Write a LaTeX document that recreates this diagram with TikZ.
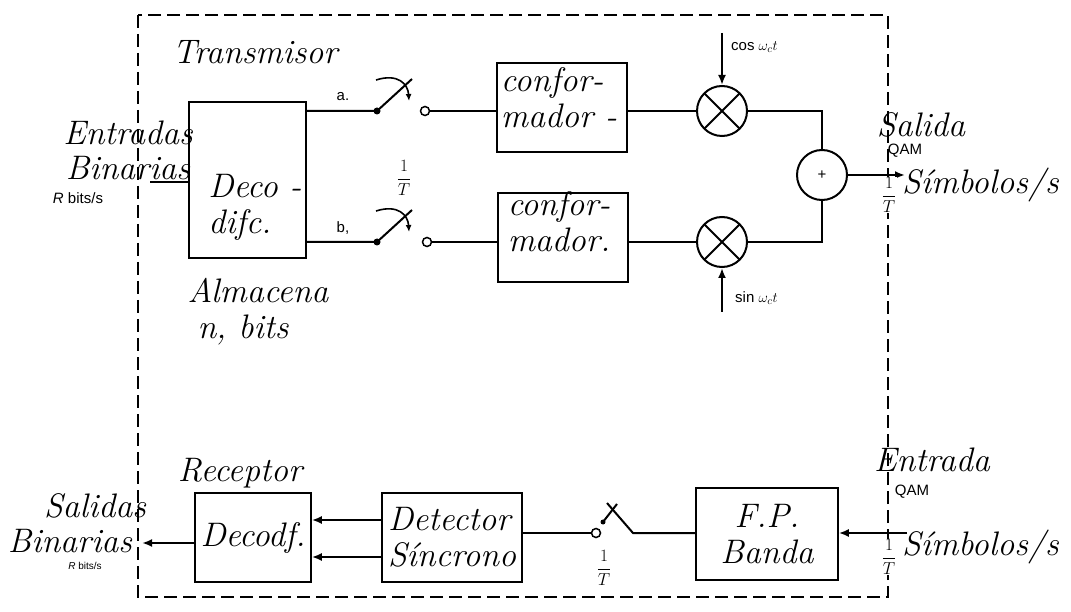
\documentclass[tikz,border=0pt]{standalone}
\usepackage{fontspec}
\newfontfamily\labfont{Liberation Sans}
\usetikzlibrary{arrows.meta}
\tikzset{
 blk/.style={draw, line width=1.6pt, inner sep=0pt},
 hwf/.style={font=\fontsize{34}{36}\selectfont\itshape},
 hw/.style={hwf, inner sep=0pt},
 lab/.style={font=\fontsize{15}{17}\selectfont\labfont, inner sep=0pt},
 frac/.style={font=\fontsize{17}{19}\selectfont, inner sep=0pt},
 wire/.style={line width=2pt},
 arr/.style={wire, -{Latex[length=10pt,width=8pt]}},
 mix/.style={circle, draw, line width=2pt, minimum size=50pt, inner sep=0pt,
   path picture={\draw[line width=2pt] (path picture bounding box.south west)--(path picture bounding box.north east)
     (path picture bounding box.north west)--(path picture bounding box.south east);}},
 contact/.style={circle, draw, line width=1.5pt, minimum size=9pt, inner sep=0pt, fill=white},
 dotn/.style={circle, fill, minimum size=7pt, inner sep=0pt},
 turn/.style={line width=1.6pt, -{Latex[length=7pt,width=6pt]}},
}
\begin{document}
\begin{tikzpicture}[x=1pt,y=-1pt]
\useasboundingbox (0,0) rectangle (1071,612);
\draw[line width=1.6pt, dash pattern=on 13pt off 6pt] (138,15) rectangle (888,597);

% ---------------- Transmitter
\node[hw] (tx) at (255,52) {Transmisor};
\node[blk, minimum width=117pt, minimum height=156pt] (deco) at (247.5,180) {};
\node[hw, align=left] (decotxt) at (255,207) {Deco -\\difc.};
\node[hw] (ent) at (128,133) {Entradas};
\node[hw] (bin) at (128,168) {Binarias};
\node[lab] (rb) at (78,198) {\textit{R} bits/s};
\coordinate (inp) at (150,182);
\draw[wire] (inp) -- (inp -| deco.west);
\node[hw] (alm) at (258,291) {Almacena};
\node[hw] (nb) at (243,330) {n, bits};

% switch a
\node[dotn] (pa) at (377,111) {};
\node[contact] (ca) at (425,111) {};
\coordinate (ba) at (412,79);
\coordinate (qa1) at (376,80);
\coordinate (qa2) at (409,101);
\draw[wire] (deco.east |- pa) -- (pa.center) -- (ba);
\draw[turn] (qa1) .. controls (398,73) and (408,84) .. (qa2);
\node[lab] (la) at (343,97) {a.};

% switch b
\node[dotn] (pb) at (377,242) {};
\node[contact] (cb) at (427,242) {};
\coordinate (bb) at (412,210);
\coordinate (qb1) at (376,211);
\coordinate (qb2) at (409,232);
\draw[wire] (deco.east |- pb) -- (pb.center) -- (bb);
\draw[turn] (qb1) .. controls (398,204) and (408,215) .. (qb2);
\node[lab] (lb) at (343,228) {b,};
\node[frac] (T1) at (404,178) {$\displaystyle\frac{1}{T}$};

% conformadores
\node[blk, minimum width=130pt, minimum height=89pt] (conf1) at (562,107.5) {};
\node[hw, align=left] (conf1t) at (559,98) {confor-\\mador -};
\node[blk, minimum width=130pt, minimum height=89pt] (conf2) at (563,237.5) {};
\node[hw, align=left] (conf2t) at (559,222) {confor-\\mador.};
\draw[wire] (ca) -- (ca -| conf1.west);
\draw[wire] (cb) -- (cb -| conf2.west);

% mixers
\node[mix] (m1) at (722,111) {};
\node[mix] (m2) at (722,242) {};
\draw[wire] (conf1.east |- m1) -- (m1);
\draw[wire] (conf2.east |- m2) -- (m2);
\coordinate (cosin) at (722,33);
\coordinate (sinin) at (722,312);
\draw[arr] (cosin) -- (m1.north);
\draw[arr] (sinin) -- (m2.south);
\node[lab, anchor=west] (cos) at (731,47) {cos $\omega_c t$};
\node[lab, anchor=west] (sin) at (735,298) {sin $\omega_c t$};

% adder
\node[circle, draw, line width=2pt, minimum size=50pt, inner sep=0pt, lab] (add) at (822,175) {+};
\draw[wire] (m1) -- (m1 -| add) -- (add.north);
\draw[wire] (m2) -- (m2 -| add) -- (add.south);
\coordinate (txout) at (905,175);
\draw[arr] (add) -- (txout);
\node[hw] (sal) at (921,125) {Salida};
\node[lab] (qam1) at (905,151) {QAM};
\node[frac, fill=white, inner sep=1pt] (T2) at (889,195) {$\displaystyle\frac{1}{T}$};
\node[hw, anchor=west] (sym1) at (902,185) {Símbolos/s};

% ---------------- Receiver
\node[hw] (rx) at (240,473) {Receptor};
\node[blk, hwf, minimum width=116pt, minimum height=89pt] (dec) at (253,537.5) {Decodf.};
\node[blk, hwf, align=left, minimum width=140pt, minimum height=89pt] (det) at (452,537.5) {Detector\\Síncrono};
\coordinate (y1) at (0,520);
\coordinate (y2) at (0,557);
\draw[arr] (det.west |- y1) -- (dec.east |- y1);
\draw[arr] (det.west |- y2) -- (dec.east |- y2);
\coordinate (rxout) at (142,543);
\draw[arr] (dec.west |- rxout) -- (rxout);
\node[hw] (sals) at (95,506) {Salidas};
\node[hw] (bins) at (70,541) {Binarias};
\node[lab, font=\fontsize{10}{11}\selectfont\labfont] (rb2) at (85,566) {\textit{R} bits/s};

% receiver switch
\node[contact] (cr) at (596,533) {};
\draw[wire] (det.east |- cr) -- (cr);
\coordinate (pr) at (633,533);
\coordinate (br) at (607,503);
\node[dotn, minimum size=5pt] (dr) at (603,522) {};
\coordinate (tr) at (617,504);
\node[blk, hwf, align=center, minimum width=142pt, minimum height=92pt] (fp) at (767,534) {F.P.\\Banda};
\draw[wire] (fp.west |- pr) -- (pr) -- (br);
\draw[wire] (dr.center) -- (tr);
\node[frac] (T3) at (604,568) {$\displaystyle\frac{1}{T}$};
\coordinate (rxin) at (907,533);
\draw[arr] (rxin) -- (fp.east |- rxin);
\node[hw] (entr) at (932,460) {Entrada};
\node[lab] (qam2) at (912,492) {QAM};
\node[frac, fill=white, inner sep=1pt] (T4) at (889,557) {$\displaystyle\frac{1}{T}$};
\node[hw, anchor=west] (sym2) at (902,547) {Símbolos/s};
\end{tikzpicture}
\end{document}
